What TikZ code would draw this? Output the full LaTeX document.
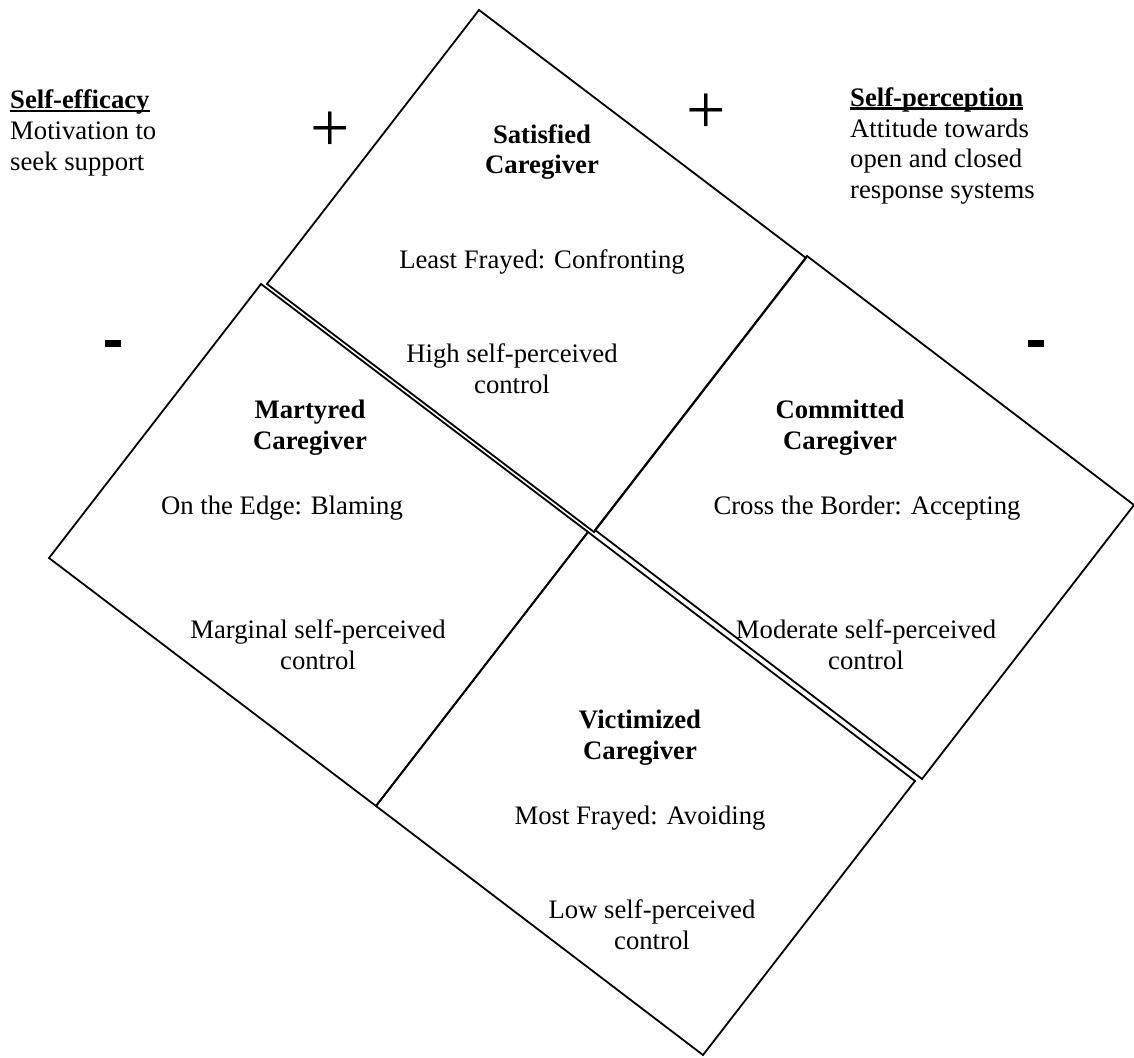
\documentclass[tikz,border=0pt]{standalone}
\usepackage{fontspec}
\setmainfont{Liberation Serif}
\newcommand\headword[1]{\setbox0=\hbox{\bfseries #1}\rlap{\rule[-3.6pt]{\wd0}{2.6pt}}\box0}
\begin{document}
\begin{tikzpicture}[x=1pt,y=-1pt,
  every node/.style={inner sep=0pt,font=\fontsize{26.7}{30.7}\selectfont},
  panel/.style={draw,line width=1.8pt,line join=miter},
  label/.style={align=center},
  side/.style={align=left,anchor=west},
  signplus/.style={font=\fontsize{70}{70}\selectfont},
  signminus/.style={fill=black}]
\useasboundingbox (0,0) rectangle (1134,1057);

% four panels, each a rectangle tilted by about 37 degrees
\coordinate (sT) at (479,10);   \coordinate (sR) at (806,258);
\coordinate (sB) at (594,532);  \coordinate (sL) at (267,284);
\coordinate (mT) at (261,284);  \coordinate (mR) at (588,532);
\coordinate (mB) at (376,806);  \coordinate (mL) at (49,558);
\coordinate (vT) at (588,532);  \coordinate (vR) at (915,781);
\coordinate (vB) at (703,1055); \coordinate (vL) at (376,806);
\coordinate (cT) at (807,256);  \coordinate (cR) at (1134,505);
\coordinate (cB) at (922,779);  \coordinate (cL) at (595,530);

\draw[panel] (sT) -- (sR) -- (sB) -- (sL) -- cycle;
\draw[panel] (mT) -- (mR) -- (mB) -- (mL) -- cycle;
\draw[panel] (vT) -- (vR) -- (vB) -- (vL) -- cycle;
\draw[panel] (cT) -- (cR) -- (cB) -- (cL) -- cycle;

% axis captions
\node[side] (efficacy) at (10,133) {\headword{Self-efficacy}\\Motivation to\\seek support};
\node[side] (perception) at (850,146) {\headword{Self-perception}\\Attitude towards\\open and closed\\response systems};

% plus and minus signs
\node[signplus] (plusL) at (330,132) {+};
\node[signplus] (plusR) at (706,114) {+};
\fill[signminus] (105,340) rectangle (121,347) coordinate (minusL);
\fill[signminus] (1028,340) rectangle (1044,347) coordinate (minusR);

% satisfied
\node[label] (satT) at (542,152) {\textbf{Satisfied}\\\textbf{Caregiver}};
\node[label] (satS) at (542,262) {Least Frayed: Confronting};
\node[label] (satC) at (512,369) {High self-perceived\\control};
% martyred
\node[label] (marT) at (310,428) {\textbf{Martyred}\\\textbf{Caregiver}};
\node[label] (marS) at (282,508) {On the Edge: Blaming};
\node[label] (marC) at (318,645) {Marginal self-perceived\\control};
% committed
\node[label] (comT) at (840,428) {\textbf{Committed}\\\textbf{Caregiver}};
\node[label] (comS) at (867,508) {Cross the Border: Accepting};
\node[label] (comC) at (866,645) {Moderate self-perceived\\control};
% victimized
\node[label] (vicT) at (640,738) {\textbf{Victimized}\\\textbf{Caregiver}};
\node[label] (vicS) at (640,818) {Most Frayed: Avoiding};
\node[label] (vicC) at (652,925) {Low self-perceived\\control};
\end{tikzpicture}
\end{document}
